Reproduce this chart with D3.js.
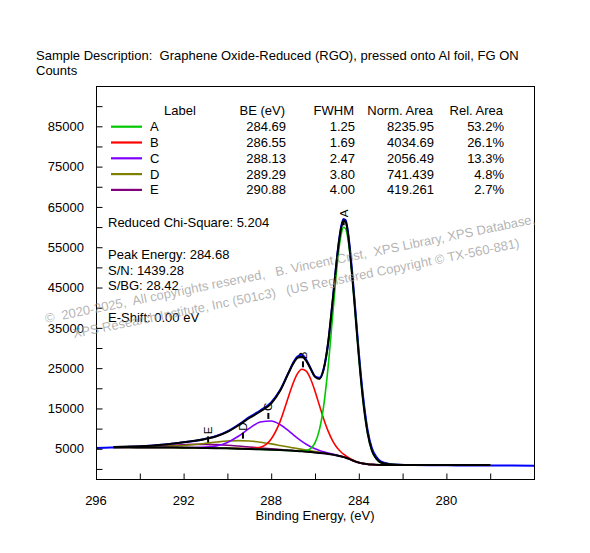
<!DOCTYPE html>
<html>
<head>
<meta charset="utf-8">
<script src="https://cdn.jsdelivr.net/npm/d3@7"></script>
<style>
  body { margin: 0; background: #fff; }
  text { font-family: "Liberation Sans", Arial, sans-serif; }
</style>
</head>
<body>
<script>
// binding energy grid shared by the fit curves (eV)
const fitBE = [295.2, 294.5, 294.0, 293.5, 293.0, 292.5, 292.0, 291.5, 291.0, 290.5,
  290.0, 289.5, 289.0, 288.5, 288.0, 287.6, 287.2, 287.0, 286.8, 286.6,
  286.4, 286.2, 286.0, 285.8, 285.6, 285.4, 285.2, 285.0, 284.9, 284.8,
  284.7, 284.6, 284.5, 284.4, 284.3, 284.2, 284.1, 284.0, 283.8, 283.6,
  283.4, 283.2, 283.0, 282.6, 282.2, 281.5, 280.5, 279.5, 278.0];

const backgroundCounts = [5350, 5350, 5340, 5330, 5320, 5300, 5280, 5250, 5200, 5150,
  5100, 5030, 4950, 4860, 4760, 4670, 4560, 4500, 4430, 4360,
  4280, 4190, 4090, 3980, 3860, 3720, 3550, 3350, 3230, 3100,
  2950, 2790, 2600, 2380, 2150, 1920, 1720, 1560, 1320, 1170,
  1080, 1030, 1000, 980, 960, 950, 950, 950, 950];

const peakA = [5350, 5350, 5340, 5330, 5320, 5300, 5280, 5250, 5200, 5150,
  5100, 5030, 4950, 4860, 4760, 4670, 4560, 4500, 4480, 4480,
  4580, 5050, 6460, 9700, 15790, 25360, 37620, 49910, 54830, 58300,
  59950, 59570, 57210, 53080, 47570, 41180, 34480, 27960, 16720, 8970,
  4510, 2530, 1600, 1130, 1010, 960, 950, 950, 950];

const peakB = [5350, 5350, 5340, 5330, 5320, 5300, 5280, 5250, 5200, 5160,
  5120, 5090, 5070, 5370, 7410, 11670, 18100, 21250, 23630, 24710,
  24240, 22300, 19290, 15800, 12350, 9370, 7030, 5330, 4680, 4145,
  3685, 3300, 2945, 2610, 2300, 2020, 1780, 1600, 1335, 1175,
  1080, 1030, 1000, 980, 960, 950, 950, 950, 950];

const peakC = [5355, 5355, 5350, 5345, 5340, 5330, 5330, 5330, 5400, 5710,
  6570, 8100, 10050, 11630, 11905, 11010, 9420, 8530, 7650, 6845,
  6130, 5515, 5005, 4590, 4250, 3965, 3695, 3434, 3290, 3145,
  2983, 2814, 2617, 2392, 2158, 1926, 1724, 1563, 1322, 1170,
  1080, 1030, 1000, 980, 960, 950, 950, 950, 950];

const peakD = [5400, 5430, 5450, 5480, 5550, 5680, 5820, 6050, 6350, 6660,
  6915, 7013, 6918, 6635, 6213, 5826, 5425, 5231, 5038, 4859,
  4683, 4510, 4340, 4173, 4007, 3830, 3631, 3409, 3280, 3143,
  2987, 2821, 2626, 2402, 2168, 1935, 1732, 1570, 1327, 1175,
  1083, 1032, 1001, 980, 960, 950, 950, 950, 950];

const peakE = [5410, 5470, 5520, 5604, 5733, 5871, 6004, 6092, 6098, 6028,
  5887, 5677, 5438, 5197, 4974, 4809, 4646, 4566, 4480, 4398,
  4308, 4210, 4104, 3990, 3867, 3725, 3553, 3352, 3231, 3100,
  2950, 2790, 2600, 2380, 2150, 1920, 1720, 1560, 1320, 1170,
  1080, 1030, 1000, 980, 960, 950, 950, 950, 950];

const envelopeCounts = [5465, 5555, 5640, 5769, 5983, 6281, 6594, 6972, 7448, 8108,
  9192, 10790, 12626, 14252, 16222, 19305, 23911, 26077, 27558, 27852,
  26821, 24825, 22839, 22333, 24824, 31370, 41329, 52035, 56500, 59900,
  61600, 61300, 58500, 53600, 47746, 41301, 34556, 28013, 16744, 8980,
  4513, 2532, 1601, 1130, 1010, 960, 950, 950, 950];

// measured spectrum
const dataBE = [296.0, 295.6, 295.2, 294.5, 294.0, 293.5, 293.0, 292.5, 292.0, 291.5,
  291.0, 290.5, 290.0, 289.5, 289.0, 288.5, 288.0, 287.6, 287.2, 287.0,
  286.8, 286.6, 286.4, 286.2, 286.0, 285.8, 285.6, 285.4, 285.2, 285.0,
  284.9, 284.8, 284.7, 284.6, 284.5, 284.4, 284.3, 284.2, 284.1, 284.0,
  283.8, 283.6, 283.4, 283.2, 283.0, 282.6, 282.2, 281.5, 280.5, 279.5,
  278.0, 277.0, 276.0];
const dataCounts = [5200, 5250, 5330, 5480, 5590, 5760, 6000, 6250, 6640, 6950,
  7500, 8150, 9300, 10950, 12850, 14500, 16500, 19500, 24000, 26300,
  27900, 28300, 27100, 25000, 23000, 22600, 24900, 31100, 41300, 52200,
  56800, 60300, 62000, 61700, 59000, 54400, 48700, 42300, 35600, 29000,
  17800, 9700, 5100, 3000, 1900, 1250, 1050, 950, 900, 880,
  850, 820, 800];

// fit table
const peakLabels = ["A", "B", "C", "D", "E"];
const peakBE = [284.69, 286.55, 288.13, 289.29, 290.88];
const peakBEText = ["284.69", "286.55", "288.13", "289.29", "290.88"];
const peakFWHM = ["1.25", "1.69", "2.47", "3.80", "4.00"];
const peakNormArea = ["8235.95", "4034.69", "2056.49", "741.439", "419.261"];
const peakRelArea = ["53.2%", "26.1%", "13.3%", "4.8%", "2.7%"];
const peakColors = ["#00c800", "#ff0000", "#8000ff", "#808000", "#800080"];
const peakSeries = [peakA, peakB, peakC, peakD, peakE];

const yTickLabels = [5000, 15000, 25000, 35000, 45000, 55000, 65000, 75000, 85000];
const xTickLabels = [296, 292, 288, 284, 280];
const statsLines = [
  ["Reduced Chi-Square: 5.204", 227],
  ["Peak Energy: 284.68", 258.5],
  ["S/N: 1439.28", 275],
  ["S/BG: 28.42", 290],
  ["E-Shift: 0.00 eV", 322]
];

const plot = { left: 96, right: 534, top: 86, bottom: 479 };

const svg = d3.select("body").
append("svg").
attr("width", 590).
attr("height", 553).
style("background", "#fff");

const x = d3.scaleLinear().domain([296, 276]).range([plot.left, plot.right]);
const y = d3.scaleLinear().domain([-2500, 95000]).range([plot.bottom, plot.top]);

const line = d3.line().
x(d => x(d[0])).
y(d => y(d[1])).
curve(d3.curveMonotoneX);

const drawCurve = (beValues, counts, color, width) => {
  svg.append("path").
  datum(d3.zip(beValues, counts)).
  attr("d", line).
  attr("fill", "none").
  attr("stroke", color).
  attr("stroke-width", width).
  attr("stroke-linejoin", "round");
};

// curves
drawCurve(dataBE, dataCounts, "#0000ff", 2);
for (let i = peakSeries.length - 1; i >= 0; i--) {
  drawCurve(fitBE, peakSeries[i], peakColors[i], 1.6);
}
drawCurve(fitBE, backgroundCounts, "#000", 2);
drawCurve(fitBE, envelopeCounts, "#000", 2);

// frame
svg.append("rect").
attr("x", plot.left + 0.5).attr("y", plot.top + 0.5).
attr("width", plot.right - plot.left).attr("height", plot.bottom - plot.top).
attr("fill", "none").attr("stroke", "#000");

// y axis: ticks every 5000 inside the frame
const yAxis = d3.axisRight(y).
tickValues(d3.range(0, 95000, 5000)).
tickSize(6).
tickFormat("");
svg.append("g").
attr("transform", `translate(${plot.left + 0.5},0)`).
call(yAxis).
call(g => g.select(".domain").remove());

svg.append("g").selectAll("text").
data(yTickLabels).
enter().
append("text").
attr("x", 84).
attr("y", d => y(d)).
attr("dy", "0.36em").
attr("text-anchor", "end").
attr("font-size", 13).
text(d => d);

// x axis: ticks every 2 eV inside the frame
const xAxis = d3.axisTop(x).
tickValues(d3.range(294, 277, -2)).
tickSize(6).
tickFormat("");
svg.append("g").
attr("transform", `translate(0,${plot.bottom + 0.5})`).
call(xAxis).
call(g => g.select(".domain").remove());

svg.append("g").selectAll("text").
data(xTickLabels).
enter().
append("text").
attr("x", d => x(d)).
attr("y", 505).
attr("text-anchor", "middle").
attr("font-size", 13).
text(d => d);

svg.append("text").
attr("x", 315).attr("y", 520).
attr("text-anchor", "middle").
attr("font-size", 13).
text("Binding Energy, (eV)");

// titles
svg.append("text").
attr("x", 36).attr("y", 59.5).
attr("font-size", 13).
style("white-space", "pre").
text("Sample Description:  Graphene Oxide-Reduced (RGO), pressed onto Al foil, FG ON");
svg.append("text").
attr("x", 36).attr("y", 75).
attr("font-size", 13).
text("Counts");

// fit table
const headerY = 115.2;
const rowY = i => 131.2 + i * 15.8;
const columns = [
  ["BE (eV)", peakBEText, 285],
  ["FWHM", peakFWHM, 354],
  ["Norm. Area", peakNormArea, 433],
  ["Rel. Area", peakRelArea, 503]
];
const table = svg.append("g").attr("font-size", 13);
table.append("text").attr("x", 164).attr("y", headerY).text("Label");
columns.forEach(col => {
  table.append("text").
  attr("x", col[2]).attr("y", headerY).
  attr("text-anchor", "end").
  text(col[0]);
  table.selectAll(null).
  data(col[1]).
  enter().
  append("text").
  attr("x", col[2] + 1).
  attr("y", (d, i) => rowY(i)).
  attr("text-anchor", "end").
  text(d => d);
});
table.selectAll(null).
data(peakLabels).
enter().
append("text").
attr("x", 150).
attr("y", (d, i) => rowY(i)).
text(d => d);
table.selectAll(null).
data(peakColors).
enter().
append("line").
attr("x1", 111).attr("x2", 142).
attr("y1", (d, i) => rowY(i) - 4.5).
attr("y2", (d, i) => rowY(i) - 4.5).
attr("stroke", d => d).
attr("stroke-width", 2.2);

// stats
svg.append("g").selectAll("text").
data(statsLines).
enter().
append("text").
attr("x", 108).
attr("y", d => d[1]).
attr("font-size", 13).
text(d => d[0]);

// peak markers above each component maximum
peakLabels.forEach((label, i) => {
  const px = x(peakBE[i]);
  const py = y(d3.max(peakSeries[i]));
  svg.append("line").
  attr("x1", px).attr("x2", px).
  attr("y1", py - 2).attr("y2", py - 8).
  attr("stroke", "#000").
  attr("stroke-width", 2);
  svg.append("text").
  attr("transform", `translate(${px},${py - 10}) rotate(-90)`).
  attr("dy", "0.36em").
  attr("font-size", 11.5).
  text(label);
});

// copyright watermark
const watermark = [
  ["©  2020-2025,  All copyrights reserved,   B. Vincent Crist,  XPS Library, XPS Database,", 46, 323],
  ["XPS Research Institute, Inc (501c3)   (US Registered Copyright © TX-560-881)", 74, 338]
];
svg.append("g").selectAll("text").
data(watermark).
enter().
append("text").
attr("transform", d => `translate(${d[1]},${d[2]}) rotate(-11.5)`).
attr("font-size", 13).
attr("fill", "#9a9a9a").
attr("fill-opacity", 0.75).
style("white-space", "pre").
text(d => d[0]);
</script>
</body>
</html>
